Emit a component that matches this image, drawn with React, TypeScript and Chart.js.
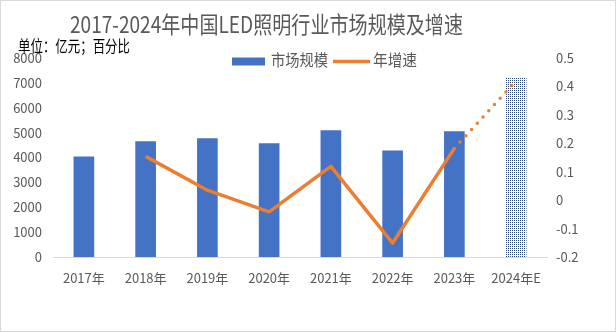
import React, { useEffect, useRef } from 'react';
import { Chart, registerables } from 'chart.js';

Chart.register(...registerables);

const categories = ['2017年', '2018年', '2019年', '2020年', '2021年', '2022年', '2023年', '2024年E'];
const marketSize = [4030, 4640, 4760, 4560, 5080, 4270, 5040, 7200];
const growthRate = [null, 0.154, 0.035, -0.041, 0.119, -0.151, 0.182, 0.42];
const leftTicks = [0, 1000, 2000, 3000, 4000, 5000, 6000, 7000, 8000];
const leftTickLabels = ['0', '1000', '2000', '3000', '4000', '5000', '6000', '7000', '8000'];
const rightTicks = [-0.2, -0.1, 0, 0.1, 0.2, 0.3, 0.4, 0.5];
const rightTickLabels = ['-0.2', '-0.1', '0', '0.1', '0.2', '0.3', '0.4', '0.5'];
const titleText = '2017-2024年中国LED照明行业市场规模及增速';
const unitText = '单位：亿元；百分比';
const seriesNames = ['市场规模', '年增速'];
const estimateIndex = 7;

const FONT = '"Noto Sans CJK SC", "Noto Sans", sans-serif';
const BLUE = '#4472C4';
const ORANGE = '#ED7D31';
const GREY = '#595959';

function drawFitted(ctx: CanvasRenderingContext2D, text: string, x: number, y: number, w: number, font: string, color: string) {
  ctx.save();
  ctx.font = font;
  const m = ctx.measureText(text).width;
  ctx.translate(x, y);
  ctx.scale(w / m, 1);
  ctx.textAlign = 'left';
  ctx.textBaseline = 'middle';
  ctx.fillStyle = color;
  ctx.fillText(text, 0, 0);
  ctx.restore();
}

const overlayPlugin = {
  id: 'overlay',
  afterDraw(chart: any) {
    const ctx: CanvasRenderingContext2D = chart.ctx;
    ctx.save();
    ctx.strokeStyle = '#D9D9D9';
    ctx.lineWidth = 1;
    ctx.strokeRect(0.5, 0.5, chart.width - 1, chart.height - 1);

    drawFitted(ctx, titleText, 70, 24, 393, `23px ${FONT}`, GREY);
    drawFitted(ctx, unitText, 18, 46, 112, `16px ${FONT}`, '#000000');

    ctx.fillStyle = BLUE;
    ctx.fillRect(232, 57.5, 33, 8);
    drawFitted(ctx, seriesNames[0], 271, 60, 57, `16px ${FONT}`, GREY);
    ctx.strokeStyle = ORANGE;
    ctx.lineWidth = 3.5;
    ctx.beginPath();
    ctx.moveTo(333, 61.5);
    ctx.lineTo(370, 61.5);
    ctx.stroke();
    drawFitted(ctx, seriesNames[1], 373, 60, 44, `16px ${FONT}`, GREY);
    ctx.restore();
  },
};

export default function App() {
  const ref = useRef<HTMLCanvasElement>(null);

  useEffect(() => {
    const canvas = ref.current;
    if (!canvas) return;

    const pc = document.createElement('canvas');
    pc.width = 2;
    pc.height = 2;
    const pctx = pc.getContext('2d')!;
    pctx.fillStyle = '#ffffff';
    pctx.fillRect(0, 0, 2, 2);
    pctx.fillStyle = '#2B4578';
    pctx.fillRect(0, 0, 1, 1);
    const pattern = canvas.getContext('2d')!.createPattern(pc, 'repeat');

    const barColors = marketSize.map((_, i) => (i === estimateIndex ? pattern : BLUE));

    const chart = new Chart(canvas, {
      type: 'bar',
      data: {
        labels: categories,
        datasets: [
          {
            type: 'line',
            label: seriesNames[1],
            data: growthRate,
            yAxisID: 'y1',
            borderColor: ORANGE,
            backgroundColor: ORANGE,
            borderWidth: 3.5,
            pointRadius: 0,
            tension: 0,
            borderJoinStyle: 'round',
            order: 0,
            segment: {
              borderDash: (c: any) => (c.p1DataIndex === estimateIndex ? [0, 8.5] : []),
              borderCapStyle: (c: any) => (c.p1DataIndex === estimateIndex ? 'round' : 'butt'),
            },
          } as any,
          {
            type: 'bar',
            label: seriesNames[0],
            data: marketSize,
            yAxisID: 'y',
            backgroundColor: barColors as any,
            barThickness: 20,
            order: 1,
          },
        ],
      },
      options: {
        animation: false,
        responsive: true,
        maintainAspectRatio: false,
        layout: { padding: { top: 58, left: 0, right: 0, bottom: 0 } },
        plugins: {
          legend: { display: false },
          title: { display: false },
          tooltip: { enabled: false },
        },
        scales: {
          x: {
            grid: { display: false, drawTicks: false },
            border: { display: true, color: '#D9D9D9', width: 1 },
            ticks: { color: GREY, font: { family: FONT, size: 13 }, padding: 13, maxRotation: 0, autoSkip: false },
            afterFit: (s: any) => { s.height = 75; },
          },
          y: {
            position: 'left',
            min: 0,
            max: 8000,
            grid: { display: false, drawTicks: false },
            border: { display: false },
            ticks: {
              color: GREY,
              font: { family: FONT, size: 13 },
              padding: 11,
              callback: (_v: any, i: number) => leftTickLabels[i],
            },
            afterBuildTicks: (s: any) => { s.ticks = leftTicks.map((v) => ({ value: v })); },
            afterFit: (s: any) => { s.width = 53; },
          },
          y1: {
            position: 'right',
            min: -0.2,
            max: 0.5,
            grid: { display: false, drawTicks: false },
            border: { display: false },
            ticks: {
              color: GREY,
              font: { family: FONT, size: 13 },
              padding: 9,
              callback: (_v: any, i: number) => rightTickLabels[i],
            },
            afterBuildTicks: (s: any) => { s.ticks = rightTicks.map((v) => ({ value: v })); },
            afterFit: (s: any) => { s.width = 69; },
          },
        },
      },
      plugins: [overlayPlugin],
    });

    return () => chart.destroy();
  }, []);

  return (
    <div style={{ position: 'fixed', left: 0, top: 0, width: 616, height: 332, background: '#fff' }}>
      <canvas ref={ref} />
    </div>
  );
}
